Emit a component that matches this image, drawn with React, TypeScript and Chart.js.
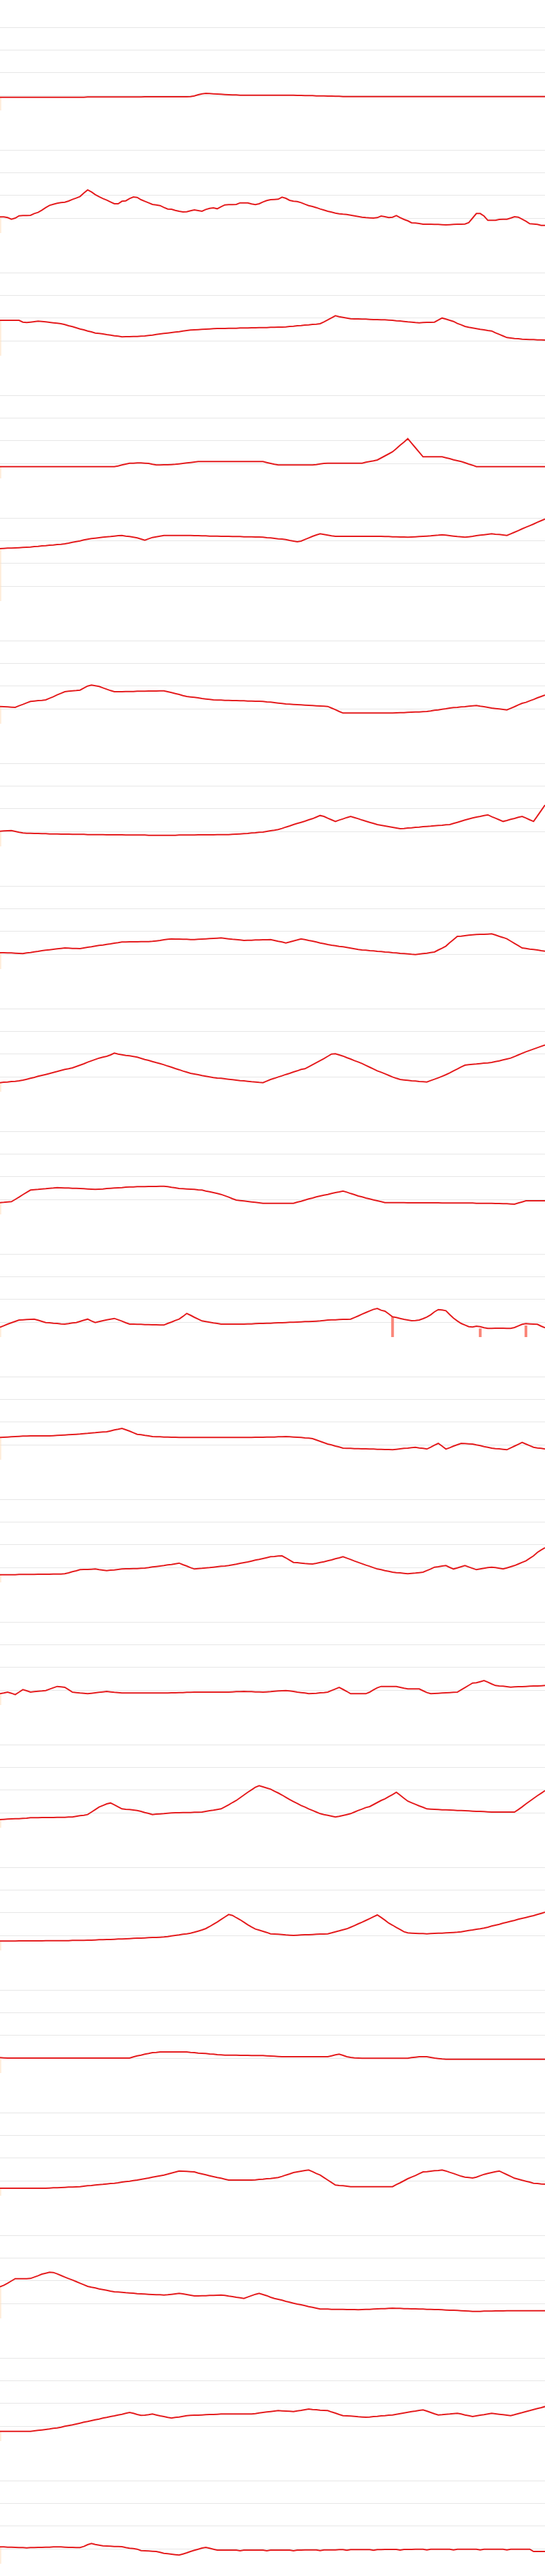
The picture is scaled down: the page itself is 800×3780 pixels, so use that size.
import React, { useEffect, useRef } from "react";
import { Chart, registerables } from "chart.js";

Chart.register(...registerables);

// shared time axis: 144 daily points
const days: string[] = Array.from({ length: 144 }, (_, i) => `Day ${i + 1}`);

// horizontal reference lines
const gridValues = [10, 20, 30, 40];
const yMin = 3.4;
const yMax = 52;

const p00 = [
  9.2,9.2,9.2,9.2,9.2,9.2,9.2,9.2,9.2,9.2,9.2,9.2,
  9.2,9.2,9.2,9.2,9.2,9.2,9.2,9.2,9.2,9.2,9.2,9.3,
  9.3,9.3,9.3,9.3,9.3,9.3,9.3,9.3,9.3,9.3,9.3,9.3,
  9.3,9.3,9.4,9.4,9.4,9.4,9.4,9.4,9.4,9.4,9.4,9.4,
  9.4,9.4,9.5,9.8,10.3,10.7,10.9,10.8,10.7,10.6,10.5,10.4,
  10.3,10.2,10.2,10.1,10.1,10.1,10.1,10.1,10.1,10.1,10.1,10.1,
  10.1,10.1,10.1,10.1,10.1,10.1,10.0,10.0,9.9,9.9,9.9,9.8,
  9.8,9.8,9.7,9.7,9.6,9.6,9.5,9.5,9.5,9.5,9.5,9.5,
  9.5,9.5,9.5,9.5,9.5,9.5,9.5,9.5,9.5,9.5,9.5,9.5,
  9.5,9.5,9.5,9.5,9.5,9.5,9.5,9.5,9.5,9.5,9.5,9.5,
  9.5,9.5,9.5,9.5,9.5,9.5,9.5,9.5,9.5,9.5,9.5,9.5,
  9.5,9.5,9.5,9.5,9.5,9.5,9.5,9.5,9.5,9.5,9.5,9.5,
];

const p01 = [
  10.5,10.5,10.2,9.5,10.0,11.0,11.1,11.1,11.2,12.0,12.5,13.5,
  14.6,15.6,16.1,16.5,16.8,17.0,17.5,18.2,18.8,19.5,21.0,22.4,
  21.5,20.3,19.4,18.6,17.9,17.1,16.3,16.3,17.4,17.6,18.6,19.3,
  19.1,18.1,17.4,16.7,16.0,15.8,15.5,14.7,14.0,13.9,13.4,13.0,
  12.7,12.8,13.2,13.6,13.3,13.0,13.8,14.3,14.5,14.1,15.0,15.8,
  15.9,15.9,16.0,16.7,16.7,16.7,16.2,15.9,16.3,17.1,17.7,18.1,
  18.2,18.3,19.2,18.7,17.8,17.4,17.3,16.8,16.1,15.5,15.1,14.6,
  14.0,13.5,13.0,12.6,12.2,11.9,11.7,11.6,11.3,11.0,10.7,10.4,
  10.2,10.1,10.0,10.2,10.9,10.6,10.2,10.4,11.1,10.2,9.4,8.8,
  7.9,7.8,7.6,7.3,7.3,7.3,7.2,7.2,7.1,7.0,7.1,7.2,
  7.3,7.3,7.4,8.0,10.0,12.0,12.0,10.9,9.0,9.0,9.0,9.4,
  9.5,9.5,10.0,10.6,10.4,9.5,8.6,7.5,7.4,7.2,6.8,6.8,
];

const p02 = [
  19.0,19.0,19.0,19.0,19.0,19.0,18.2,18.0,18.2,18.4,18.6,18.5,
  18.3,18.1,17.9,17.7,17.5,17.1,16.6,16.2,15.7,15.2,14.8,14.3,
  13.9,13.4,13.2,13.0,12.7,12.5,12.2,12.0,11.7,11.8,11.8,11.9,
  11.9,12.0,12.1,12.3,12.5,12.8,13.0,13.2,13.4,13.6,13.8,14.0,
  14.3,14.5,14.7,14.8,14.9,15.0,15.1,15.2,15.3,15.4,15.4,15.4,
  15.5,15.5,15.5,15.6,15.6,15.6,15.7,15.7,15.8,15.8,15.8,15.9,
  15.9,16.0,16.0,16.1,16.3,16.4,16.6,16.7,16.9,17.0,17.2,17.3,
  17.5,18.3,19.2,20.1,21.0,20.6,20.3,20.0,19.7,19.6,19.6,19.5,
  19.5,19.4,19.3,19.3,19.2,19.2,19.1,19.0,18.8,18.7,18.5,18.3,
  18.2,18.0,17.9,18.0,18.1,18.1,18.2,19.1,20.0,19.5,19.0,18.5,
  17.6,17.0,16.3,15.9,15.6,15.3,15.0,14.8,14.5,14.3,13.5,12.8,
  12.1,11.4,11.2,11.0,10.9,10.7,10.6,10.5,10.5,10.4,10.4,10.3,
];

const p03 = [
  8.6,8.6,8.6,8.6,8.6,8.6,8.6,8.6,8.6,8.6,8.6,8.6,
  8.6,8.6,8.6,8.6,8.6,8.6,8.6,8.6,8.6,8.6,8.6,8.6,
  8.6,8.6,8.6,8.6,8.6,8.6,8.6,8.9,9.3,9.7,10.1,10.1,
  10.2,10.2,10.1,10.0,9.6,9.3,9.3,9.4,9.4,9.5,9.6,9.8,
  10.0,10.2,10.4,10.6,10.8,10.8,10.8,10.8,10.8,10.8,10.8,10.8,
  10.8,10.8,10.8,10.8,10.8,10.8,10.8,10.8,10.8,10.8,10.4,10.0,
  9.6,9.3,9.3,9.3,9.3,9.3,9.3,9.3,9.3,9.3,9.3,9.5,
  9.8,10.0,10.1,10.1,10.1,10.1,10.1,10.1,10.1,10.1,10.1,10.1,
  10.5,10.8,11.1,11.5,12.4,13.3,14.2,15.1,16.5,18.0,19.4,20.9,
  18.9,16.9,14.9,12.9,12.9,12.9,12.9,12.9,12.9,12.5,12.1,11.6,
  11.2,10.8,10.3,9.7,9.2,8.6,8.6,8.6,8.6,8.6,8.6,8.6,
  8.6,8.6,8.6,8.6,8.6,8.6,8.6,8.6,8.6,8.6,8.6,8.6,
];

const p04 = [
  26.5,26.6,26.7,26.7,26.8,26.9,27.0,27.1,27.2,27.4,27.5,27.7,
  27.8,28.0,28.1,28.3,28.4,28.6,28.9,29.3,29.6,29.9,30.3,30.6,
  30.9,31.1,31.3,31.5,31.7,31.8,32.0,32.2,32.3,32.0,31.8,31.5,
  31.2,30.7,30.2,30.8,31.4,31.7,32.0,32.3,32.3,32.3,32.3,32.3,
  32.3,32.3,32.3,32.2,32.2,32.1,32.1,32.0,32.0,32.0,31.9,31.9,
  31.9,31.8,31.8,31.8,31.7,31.7,31.7,31.6,31.6,31.5,31.3,31.2,
  31.0,30.8,30.7,30.5,30.1,29.8,29.5,29.8,30.5,31.2,31.9,32.5,
  33.0,32.7,32.4,32.1,31.9,31.9,31.9,31.9,31.9,31.9,31.9,31.9,
  31.9,31.9,31.9,31.9,31.9,31.8,31.8,31.7,31.7,31.6,31.6,31.5,
  31.6,31.7,31.8,31.9,32.0,32.1,32.3,32.4,32.6,32.4,32.2,32.0,
  31.8,31.7,31.5,31.7,31.9,32.2,32.4,32.6,32.8,33.0,32.8,32.7,
  32.5,32.3,33.0,33.7,34.4,35.2,35.9,36.6,37.3,38.1,38.8,39.5,
];

const p05 = [
  11.0,10.9,10.8,10.7,10.6,11.3,11.9,12.6,13.2,13.4,13.6,13.7,
  13.9,14.6,15.3,16.1,16.8,17.5,17.7,17.9,18.0,18.2,19.1,20.0,
  20.4,20.1,19.8,19.2,18.6,18.0,17.5,17.5,17.5,17.6,17.6,17.6,
  17.7,17.7,17.7,17.8,17.8,17.8,17.9,17.9,17.5,17.1,16.7,16.3,
  15.8,15.4,15.2,15.0,14.8,14.5,14.3,14.1,13.9,13.8,13.8,13.7,
  13.7,13.6,13.6,13.5,13.5,13.4,13.4,13.3,13.3,13.2,13.0,12.9,
  12.7,12.5,12.3,12.1,12.0,11.9,11.8,11.7,11.6,11.5,11.4,11.3,
  11.2,11.1,11.0,10.3,9.6,8.8,8.1,8.1,8.1,8.1,8.1,8.1,
  8.1,8.1,8.1,8.1,8.1,8.1,8.1,8.1,8.2,8.3,8.3,8.4,
  8.5,8.6,8.6,8.7,8.8,9.0,9.3,9.5,9.8,10.0,10.3,10.5,
  10.6,10.8,10.9,11.1,11.3,11.4,11.1,10.9,10.6,10.3,10.1,9.9,
  9.7,9.5,10.2,10.9,11.7,12.4,12.8,13.5,14.1,14.8,15.4,16.0,
];

const p06 = [
  10.1,10.2,10.3,10.4,10.0,9.6,9.3,9.2,9.2,9.1,9.1,9.0,
  9.0,8.9,8.9,8.9,8.8,8.8,8.8,8.7,8.7,8.7,8.7,8.6,
  8.6,8.6,8.6,8.6,8.5,8.5,8.5,8.5,8.5,8.4,8.4,8.4,
  8.4,8.4,8.4,8.3,8.3,8.3,8.3,8.3,8.3,8.3,8.3,8.4,
  8.4,8.4,8.4,8.4,8.5,8.5,8.5,8.5,8.5,8.6,8.6,8.6,
  8.6,8.7,8.8,8.9,9.0,9.1,9.3,9.4,9.6,9.7,10.0,10.3,
  10.5,10.8,11.3,11.9,12.4,13.0,13.5,14.0,14.5,15.1,15.6,16.3,
  17.0,16.6,15.8,15.1,14.4,15.0,15.5,16.1,16.6,16.1,15.6,15.0,
  14.5,14.0,13.5,13.0,12.7,12.4,12.1,11.8,11.5,11.2,11.3,11.5,
  11.6,11.8,11.9,12.1,12.2,12.3,12.5,12.6,12.7,12.9,13.0,13.5,
  14.0,14.5,15.0,15.5,15.9,16.3,16.6,17.0,17.3,16.5,15.8,15.1,
  14.4,14.8,15.3,15.7,16.2,16.6,15.9,15.1,14.4,16.8,19.2,21.6,
];

const p07 = [
  10.6,10.6,10.5,10.5,10.4,10.3,10.2,10.5,10.7,11.0,11.2,11.5,
  11.7,11.9,12.1,12.3,12.5,12.7,12.6,12.5,12.5,12.4,12.7,13.0,
  13.2,13.5,13.8,14.0,14.3,14.5,14.8,15.0,15.3,15.3,15.4,15.4,
  15.4,15.5,15.5,15.5,15.6,15.8,16.0,16.3,16.5,16.7,16.6,16.6,
  16.5,16.5,16.4,16.4,16.5,16.6,16.7,16.8,16.9,17.0,17.1,16.9,
  16.7,16.5,16.4,16.2,16.0,16.1,16.1,16.2,16.2,16.3,16.3,16.4,
  16.0,15.6,15.3,14.9,15.3,15.8,16.2,16.7,16.4,16.0,15.7,15.3,
  14.9,14.6,14.2,13.9,13.7,13.4,13.2,12.9,12.6,12.3,12.0,11.8,
  11.7,11.5,11.4,11.2,11.1,10.9,10.8,10.6,10.5,10.3,10.2,10.1,
  9.9,9.8,10.0,10.2,10.4,10.7,10.9,11.8,12.6,13.5,15.0,16.4,
  17.8,17.9,18.1,18.3,18.5,18.6,18.7,18.7,18.8,18.9,18.4,17.8,
  17.3,16.7,15.7,14.7,13.7,12.7,12.5,12.2,12.0,11.8,11.5,11.3,
];

const p08 = [
  7.4,7.6,7.7,7.9,8.0,8.2,8.5,8.9,9.3,9.7,10.2,10.6,
  11.0,11.4,11.9,12.3,12.8,13.2,13.5,13.9,14.5,15.1,15.7,16.4,
  17.0,17.6,18.2,18.6,19.0,19.6,20.4,20.0,19.7,19.4,19.2,18.9,
  18.6,18.1,17.6,17.2,16.7,16.2,15.8,15.3,14.7,14.2,13.6,13.1,
  12.5,12.0,11.5,11.2,10.9,10.5,10.2,9.9,9.6,9.4,9.3,9.1,
  8.9,8.7,8.5,8.3,8.2,8.0,7.8,7.7,7.5,7.4,8.1,8.8,
  9.3,9.9,10.4,11.0,11.5,12.1,12.6,13.2,13.5,14.4,15.3,16.2,
  17.1,18.0,19.0,20.0,20.1,19.6,19.1,18.4,17.8,17.1,16.5,15.8,
  15.0,14.2,13.4,12.6,12.0,11.3,10.6,9.9,9.3,8.8,8.6,8.4,
  8.2,8.1,7.9,7.8,7.7,8.3,8.9,9.5,10.2,10.9,11.7,12.6,
  13.4,14.3,15.1,15.3,15.5,15.6,15.8,16.0,16.1,16.3,16.7,17.0,
  17.4,17.8,18.2,18.9,19.6,20.3,21.0,21.6,22.2,22.8,23.4,24.0,
];

const p09 = [
  8.6,8.7,8.9,9.0,10.0,11.0,12.1,13.1,14.1,14.3,14.4,14.6,
  14.7,14.9,15.0,15.2,15.1,15.0,15.0,14.9,14.9,14.8,14.7,14.6,
  14.5,14.4,14.5,14.6,14.8,14.9,15.0,15.1,15.2,15.4,15.5,15.5,
  15.6,15.6,15.6,15.7,15.7,15.7,15.8,15.8,15.6,15.3,15.1,14.8,
  14.7,14.6,14.5,14.4,14.2,14.1,13.7,13.4,13.0,12.6,12.2,11.6,
  11.0,10.3,9.7,9.5,9.3,9.1,8.9,8.7,8.5,8.3,8.3,8.3,
  8.3,8.3,8.3,8.3,8.3,8.3,8.8,9.2,9.7,10.2,10.6,11.1,
  11.5,11.9,12.2,12.6,13.0,13.3,13.7,13.2,12.6,12.1,11.5,11.1,
  10.6,10.2,9.8,9.4,9.0,8.6,8.6,8.6,8.6,8.6,8.6,8.5,
  8.5,8.5,8.5,8.5,8.5,8.5,8.5,8.5,8.4,8.4,8.4,8.4,
  8.4,8.4,8.4,8.4,8.4,8.3,8.3,8.3,8.3,8.3,8.2,8.2,
  8.1,8.1,8.0,7.9,8.4,8.9,9.4,9.4,9.4,9.4,9.4,9.4,
];

const p10 = [
  7.7,8.4,9.1,9.7,10.3,10.9,11.0,11.1,11.2,11.3,10.8,10.3,
  9.8,9.7,9.5,9.4,9.2,9.1,9.3,9.6,9.8,10.3,10.8,11.3,
  10.5,9.8,10.2,10.6,11.0,11.3,11.6,11.0,10.4,9.7,9.1,9.1,
  9.0,9.0,8.9,8.9,8.8,8.8,8.7,8.7,9.4,10.0,10.7,11.3,
  12.5,13.8,13.0,12.1,11.3,10.5,10.2,9.9,9.6,9.4,9.1,9.1,
  9.1,9.1,9.1,9.1,9.1,9.2,9.2,9.3,9.4,9.4,9.5,9.5,
  9.6,9.7,9.7,9.8,9.9,9.9,10.0,10.1,10.2,10.2,10.3,10.4,
  10.5,10.7,10.9,11.0,11.0,11.1,11.2,11.2,11.3,12.0,12.7,13.5,
  14.2,14.9,15.6,16.0,15.2,14.8,13.6,12.3,12.0,11.6,11.2,10.9,
  10.6,10.7,10.9,11.5,12.2,13.2,14.5,15.5,15.3,15.0,13.3,11.7,
  10.5,9.4,8.7,8.0,7.8,8.2,8.0,7.5,7.2,7.2,7.3,7.3,
  7.3,7.2,7.2,7.6,8.3,9.0,9.3,9.2,9.1,9.0,8.2,7.5,
];

const p11 = [
  13.2,13.3,13.4,13.5,13.6,13.7,13.8,13.8,13.9,13.9,13.9,13.9,
  13.9,13.9,14.0,14.1,14.2,14.3,14.4,14.5,14.6,14.7,14.9,15.0,
  15.2,15.3,15.5,15.6,15.7,16.1,16.5,16.8,17.2,16.6,16.0,15.3,
  14.6,14.4,14.1,13.9,13.6,13.5,13.5,13.4,13.4,13.3,13.3,13.2,
  13.2,13.2,13.2,13.2,13.2,13.2,13.2,13.2,13.2,13.2,13.2,13.2,
  13.2,13.2,13.2,13.2,13.2,13.2,13.2,13.3,13.3,13.3,13.4,13.4,
  13.4,13.5,13.5,13.6,13.5,13.4,13.3,13.2,13.0,12.9,12.7,12.1,
  11.5,10.9,10.3,9.9,9.4,9.0,8.5,8.4,8.4,8.3,8.3,8.2,
  8.2,8.1,8.1,8.0,8.0,7.9,7.9,7.8,8.0,8.2,8.4,8.5,
  8.7,8.9,8.6,8.4,8.1,8.9,9.8,10.6,9.4,8.1,8.7,9.4,
  10.0,10.6,10.5,10.4,10.3,9.9,9.6,9.2,8.9,8.5,8.3,8.2,
  8.0,7.8,8.6,9.4,10.2,11.0,10.3,9.6,8.9,8.6,8.4,8.1,
];

const p12 = [
  6.8,6.8,6.8,6.8,6.8,6.9,6.9,6.9,6.9,6.9,7.0,7.0,
  7.0,7.0,7.1,7.1,7.1,7.2,7.6,8.1,8.5,9.0,9.1,9.1,
  9.2,9.3,9.0,8.8,8.6,8.8,8.9,9.1,9.3,9.4,9.4,9.5,
  9.5,9.6,9.7,9.9,10.2,10.4,10.6,10.8,11.1,11.3,11.6,11.9,
  11.2,10.6,9.9,9.3,9.5,9.6,9.8,9.9,10.1,10.3,10.5,10.6,
  10.8,11.1,11.4,11.8,12.1,12.4,12.8,13.2,13.5,13.9,14.3,14.7,
  14.8,15.0,15.1,14.2,13.2,12.2,12.1,11.9,11.7,11.6,11.5,11.8,
  12.2,12.5,12.9,13.3,13.8,14.2,14.7,14.1,13.5,12.8,12.2,11.6,
  11.0,10.5,9.9,9.3,9.0,8.6,8.3,7.9,7.7,7.6,7.4,7.2,
  7.4,7.5,7.7,7.9,8.6,9.3,10.1,10.3,10.6,10.8,10.0,9.3,
  9.8,10.3,10.8,10.2,9.6,9.0,9.3,9.6,9.9,10.1,9.9,9.6,
  9.3,9.8,10.3,10.8,11.5,12.2,12.9,14.0,15.1,16.6,17.7,18.7,
];

const p13 = [
  8.4,8.7,9.1,8.6,8.0,9.1,10.2,9.7,9.1,9.3,9.5,9.6,
  9.8,10.4,11.0,11.6,11.4,11.2,10.2,9.1,8.9,8.7,8.6,8.4,
  8.6,8.8,9.0,9.2,9.4,9.2,9.0,8.9,8.7,8.7,8.7,8.7,
  8.7,8.7,8.7,8.7,8.7,8.7,8.7,8.7,8.7,8.8,8.8,8.9,
  8.9,9.0,9.0,9.1,9.1,9.1,9.1,9.1,9.1,9.1,9.1,9.1,
  9.1,9.2,9.3,9.3,9.4,9.3,9.3,9.2,9.2,9.1,9.2,9.3,
  9.5,9.6,9.7,9.8,9.6,9.4,9.1,8.9,8.7,8.4,8.5,8.6,
  8.8,8.9,9.1,9.8,10.5,11.2,10.3,9.4,8.4,8.4,8.4,8.4,
  8.4,9.1,10.1,11.0,11.6,11.6,11.6,11.6,11.6,11.2,10.8,10.5,
  10.5,10.5,10.5,9.7,8.9,8.4,8.5,8.6,8.7,8.8,8.9,9.0,
  9.1,10.1,11.1,12.1,13.1,13.2,13.7,14.2,13.5,12.7,12.0,11.8,
  11.7,11.5,11.3,11.4,11.5,11.5,11.6,11.7,11.8,11.8,11.9,12.0,
];

const p14 = [
  7.0,7.1,7.2,7.3,7.4,7.4,7.5,7.6,7.8,7.8,7.8,7.9,
  7.9,7.9,7.9,8.0,8.0,8.0,8.1,8.1,8.4,8.7,8.9,9.2,
  10.3,11.4,12.5,13.2,13.9,14.3,13.5,12.6,11.7,11.5,11.4,11.2,
  11.0,10.6,10.1,9.7,9.2,9.4,9.5,9.6,9.8,9.9,10.0,10.0,
  10.1,10.1,10.1,10.2,10.2,10.3,10.6,10.9,11.1,11.4,11.7,12.6,
  13.5,14.5,15.4,16.6,17.8,19.0,20.1,21.2,21.9,21.4,20.9,20.4,
  19.5,18.7,17.8,16.8,15.8,14.9,14.1,13.2,12.5,11.7,11.0,10.3,
  9.6,9.2,8.9,8.5,8.1,8.4,8.8,9.2,9.6,10.3,11.0,11.6,
  12.3,12.7,13.6,14.5,15.4,16.1,17.1,18.0,19.0,17.7,16.4,15.1,
  14.4,13.7,13.0,12.4,11.7,11.6,11.5,11.4,11.3,11.3,11.2,11.1,
  11.0,11.0,10.9,10.8,10.7,10.6,10.6,10.5,10.4,10.3,10.3,10.3,
  10.3,10.3,10.3,10.3,11.4,12.6,13.9,15.1,16.3,17.5,18.6,19.7,
];

const p15 = [
  7.5,7.5,7.5,7.5,7.5,7.6,7.6,7.6,7.6,7.6,7.6,7.6,
  7.7,7.7,7.7,7.7,7.7,7.7,7.7,7.8,7.8,7.8,7.8,7.9,
  7.9,8.0,8.1,8.1,8.2,8.2,8.3,8.4,8.4,8.5,8.6,8.7,
  8.8,8.8,8.9,9.0,9.1,9.1,9.2,9.3,9.5,9.8,10.0,10.2,
  10.5,10.7,11.0,11.4,11.9,12.4,13.0,13.9,14.9,15.9,17.0,18.1,
  19.2,18.8,17.8,16.9,15.8,14.7,13.7,12.8,12.3,11.8,11.3,10.7,
  10.6,10.5,10.4,10.2,10.1,10.0,10.1,10.2,10.3,10.3,10.4,10.5,
  10.6,10.6,10.7,11.1,11.6,12.0,12.5,12.9,13.6,14.3,15.1,15.8,
  16.6,17.4,18.2,19.0,17.9,16.7,15.4,14.5,13.5,12.6,11.6,11.1,
  11.0,10.9,10.8,10.8,10.7,10.8,10.9,11.0,11.0,11.1,11.2,11.3,
  11.4,11.6,11.9,12.2,12.4,12.7,12.9,13.2,13.6,14.1,14.5,14.9,
  15.4,15.8,16.2,16.6,17.1,17.5,17.9,18.3,18.7,19.2,19.7,20.2,
];

const p16 = [
  10.2,10.1,10.0,10.0,10.0,10.0,10.0,10.0,10.0,10.0,10.0,10.0,
  10.0,10.0,10.0,10.0,10.0,10.0,10.0,10.0,10.0,10.0,10.0,10.0,
  10.0,10.0,10.0,10.0,10.0,10.0,10.0,10.0,10.0,10.0,10.0,10.5,
  11.0,11.3,11.7,12.0,12.4,12.5,12.7,12.7,12.7,12.7,12.7,12.7,
  12.7,12.7,12.5,12.4,12.2,12.1,12.0,11.8,11.7,11.5,11.4,11.3,
  11.3,11.3,11.3,11.2,11.2,11.2,11.1,11.1,11.1,11.1,11.0,10.9,
  10.8,10.7,10.6,10.6,10.6,10.6,10.6,10.6,10.6,10.6,10.6,10.6,
  10.6,10.6,10.6,11.0,11.4,11.7,11.2,10.6,10.3,10.1,10.0,9.9,
  9.9,9.9,9.9,9.9,9.9,9.9,9.9,9.9,9.9,9.9,9.9,9.9,
  10.2,10.4,10.6,10.6,10.6,10.3,10.0,9.8,9.6,9.5,9.5,9.5,
  9.5,9.5,9.5,9.5,9.5,9.5,9.5,9.5,9.5,9.5,9.5,9.5,
  9.5,9.5,9.5,9.5,9.5,9.5,9.5,9.5,9.5,9.5,9.5,9.5,
];

const p17 = [
  6.7,6.7,6.7,6.7,6.7,6.7,6.7,6.7,6.7,6.7,6.7,6.7,
  6.7,6.8,6.9,6.9,7.0,7.1,7.2,7.2,7.3,7.4,7.6,7.8,
  7.9,8.1,8.3,8.4,8.6,8.8,8.9,9.1,9.4,9.6,9.8,10.1,
  10.3,10.6,10.9,11.2,11.6,11.9,12.2,12.5,12.9,13.4,13.8,14.3,
  14.2,14.1,14.0,13.9,13.4,13.0,12.6,12.2,11.8,11.4,11.1,10.7,
  10.3,10.3,10.3,10.3,10.3,10.3,10.3,10.4,10.6,10.7,10.9,11.0,
  11.2,11.4,11.9,12.5,13.0,13.6,13.9,14.2,14.5,14.7,14.0,13.2,
  12.5,11.4,10.3,9.2,8.1,7.9,7.8,7.6,7.4,7.4,7.4,7.4,
  7.4,7.4,7.4,7.4,7.4,7.4,7.4,7.4,8.3,9.1,10.0,10.9,
  11.6,12.3,13.1,13.9,14.0,14.2,14.4,14.5,14.7,14.3,13.7,13.2,
  12.6,12.0,11.6,11.4,11.2,11.6,12.2,12.8,13.2,13.6,14.0,14.3,
  13.5,12.7,11.9,11.1,10.7,10.2,9.8,9.4,8.9,8.8,8.6,8.5,
];

const p18 = [
  17.3,18.0,18.9,19.9,20.9,20.9,20.9,20.9,21.0,21.6,22.2,22.9,
  23.3,23.7,23.6,23.0,22.3,21.6,20.9,20.3,19.6,18.9,18.2,17.5,
  17.1,16.8,16.4,16.1,15.8,15.4,15.1,15.0,14.9,14.7,14.6,14.5,
  14.3,14.2,14.1,14.0,13.9,13.8,13.8,13.7,13.8,14.0,14.2,14.4,
  14.2,13.9,13.6,13.3,13.3,13.4,13.4,13.5,13.5,13.6,13.7,13.5,
  13.2,13.0,12.7,12.5,12.2,12.8,13.4,14.0,14.4,13.9,13.4,12.7,
  12.2,11.8,11.4,10.9,10.5,10.1,9.7,9.4,9.0,8.6,8.3,7.9,
  7.5,7.5,7.5,7.4,7.4,7.4,7.4,7.3,7.3,7.3,7.2,7.3,
  7.4,7.4,7.5,7.6,7.7,7.7,7.8,7.9,7.8,7.8,7.7,7.7,
  7.6,7.6,7.5,7.5,7.4,7.4,7.3,7.3,7.2,7.1,7.0,7.0,
  6.9,6.8,6.7,6.6,6.5,6.5,6.5,6.6,6.6,6.6,6.7,6.7,
  6.7,6.8,6.8,6.8,6.8,6.8,6.8,6.8,6.8,6.8,6.8,6.8,
];

const p19 = [
  7.7,7.7,7.7,7.7,7.7,7.7,7.7,7.7,7.7,7.9,8.1,8.3,
  8.5,8.7,9.0,9.2,9.5,9.9,10.2,10.5,10.9,11.3,11.7,12.0,
  12.4,12.8,13.1,13.5,13.8,14.2,14.5,14.9,15.2,15.6,16.0,15.6,
  15.1,14.7,14.8,15.0,15.3,14.9,14.5,14.2,13.8,13.5,13.8,14.0,
  14.3,14.6,14.7,14.8,14.8,14.9,15.0,15.1,15.1,15.2,15.3,15.3,
  15.3,15.3,15.3,15.3,15.3,15.3,15.3,15.5,15.8,16.0,16.2,16.4,
  16.6,16.8,16.7,16.6,16.5,16.4,16.7,16.9,17.2,17.5,17.3,17.2,
  17.0,16.9,16.8,16.2,15.7,15.1,14.6,14.5,14.4,14.3,14.1,14.0,
  13.9,14.0,14.2,14.3,14.5,14.6,14.8,14.9,15.2,15.5,15.8,16.1,
  16.4,16.6,16.9,17.1,16.6,16.0,15.4,14.9,15.0,15.2,15.3,15.5,
  15.6,15.3,14.9,14.6,14.2,14.5,14.8,15.0,15.3,15.6,15.4,15.2,
  15.0,14.8,14.6,15.0,15.5,15.9,16.4,16.8,17.3,17.7,18.1,18.6,
];

const p20 = [
  10.8,10.8,10.7,10.7,10.6,10.5,10.5,10.4,10.5,10.5,10.6,10.6,
  10.7,10.7,10.8,10.8,10.8,10.7,10.6,10.6,10.5,10.5,11.0,11.8,
  12.3,11.9,11.6,11.3,11.2,11.1,11.0,11.0,10.9,10.5,10.2,10.1,
  9.8,9.2,9.1,9.0,8.9,8.8,8.4,8.0,7.8,7.6,7.4,7.2,
  7.7,8.2,8.8,9.3,9.8,10.3,10.6,10.2,9.8,9.4,9.4,9.4,
  9.4,9.4,9.4,9.1,9.4,9.4,9.4,9.4,9.4,9.4,9.1,9.4,
  9.4,9.4,9.4,9.4,9.4,9.1,9.4,9.4,9.5,9.5,9.5,9.5,
  9.2,9.5,9.5,9.5,9.5,9.6,9.6,9.3,9.6,9.6,9.6,9.6,
  9.6,9.6,9.3,9.6,9.6,9.7,9.7,9.7,9.7,9.4,9.7,9.7,
  9.7,9.8,9.8,9.8,9.5,9.8,9.8,9.8,9.8,9.8,9.8,9.5,
  9.8,9.8,9.8,9.8,9.8,9.8,9.5,9.8,9.8,9.8,9.8,9.8,
  9.8,9.5,9.8,9.8,9.8,9.8,9.8,9.8,8.8,8.8,8.8,8.8,
];

const series: number[][] = [
  p00, p01, p02, p03, p04, p05, p06, p07, p08, p09, p10,
  p11, p12, p13, p14, p15, p16, p17, p18, p19, p20,
];

// event markers (bars) in the eleventh panel
const eventPanel = 10;
const eventIndex = [103, 126, 138];
const eventValue = [12.3, 7.2, 8.5];

const LINE_COLOR = "rgb(228,26,28)";
const EVENT_COLOR = "rgba(250,128,114,0.95)";
const START_COLOR = "rgba(253,226,196,0.6)";
const GRID_COLOR = "#e6e6e6";

function Panel({ values, panel }: { values: number[]; panel: number }) {
  const ref = useRef<HTMLCanvasElement | null>(null);

  useEffect(() => {
    if (!ref.current) return;
    const bars: (number | null)[] = days.map(() => null);
    const colors: string[] = days.map(() => EVENT_COLOR);
    bars[0] = values[0];
    colors[0] = START_COLOR;
    if (panel === eventPanel) {
      eventIndex.forEach((idx, k) => {
        bars[idx] = eventValue[k];
      });
    }
    const chart = new Chart(ref.current, {
      type: "bar",
      data: {
        labels: days,
        datasets: [
          {
            type: "line",
            data: values,
            borderColor: LINE_COLOR,
            borderWidth: 2,
            pointRadius: 0,
            tension: 0,
            fill: false,
            order: 0,
          } as any,
          {
            type: "bar",
            data: bars,
            backgroundColor: colors,
            borderWidth: 0,
            order: 1,
          } as any,
        ],
      },
      options: {
        animation: false,
        responsive: false,
        maintainAspectRatio: false,
        layout: { padding: { top: 0, bottom: 18, left: 0, right: 0 } },
        plugins: { legend: { display: false }, tooltip: { enabled: false } },
        scales: {
          x: { type: "category", display: false, offset: false },
          y: {
            type: "linear",
            min: yMin,
            max: yMax,
            ticks: { display: false },
            border: { display: false },
            grid: { color: GRID_COLOR, lineWidth: 1, drawTicks: false },
            afterBuildTicks: (scale: any) => {
              scale.ticks = gridValues.map((v) => ({ value: v }));
            },
          },
        },
      } as any,
    });
    return () => chart.destroy();
  }, [values, panel]);

  return (
    <canvas
      ref={ref}
      width={800}
      height={180}
      style={{ display: "block", width: 800, height: 180 }}
    />
  );
}

export default function App() {
  return (
    <div style={{ width: 800 }}>
      <style>{`html,body{margin:0;padding:0;background:#fff;}`}</style>
      {series.map((s, i) => (
        <Panel key={i} values={s} panel={i} />
      ))}
    </div>
  );
}
